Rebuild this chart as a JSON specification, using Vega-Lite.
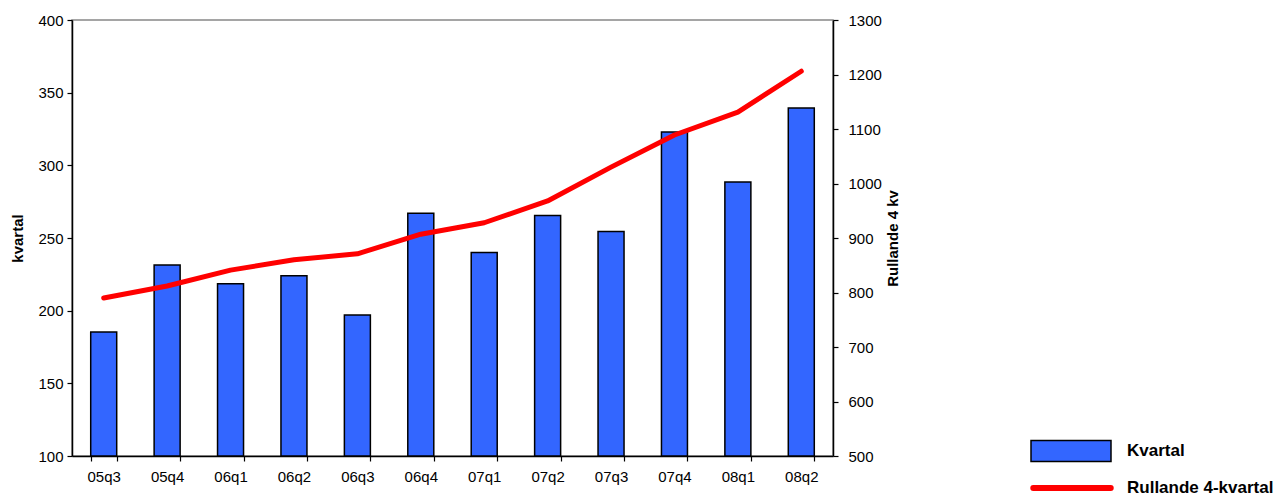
{
  "$schema": "https://vega.github.io/schema/vega-lite/v6.json",
  "width": 761,
  "height": 436,
  "autosize": "none",
  "padding": {"left": 72, "top": 20, "right": 454, "bottom": 40},
  "background": "white",
  "config": {
    "font": "Liberation Sans",
    "view": {"stroke": "#888888", "strokeWidth": 1.5},
    "axis": {"labelFont": "Liberation Sans", "labelFontSize": 15, "labelColor": "#000000", "titleFont": "Liberation Sans", "titleFontSize": 15, "titleFontWeight": "bold", "titleColor": "#000000", "domainColor": "#000000", "tickColor": "#000000", "grid": false, "domainWidth": 1.5, "tickWidth": 1.2},
    "legend": {"labelFont": "Liberation Sans", "labelFontSize": 17, "labelFontWeight": "bold", "labelColor": "#000000", "padding": 0, "labelLimit": 300}
  },
  "data": {"values": [
    {"q": "05q3", "kvartal": 185.3, "rullande": 790},
    {"q": "05q4", "kvartal": 231.5, "rullande": 812},
    {"q": "06q1", "kvartal": 218.5, "rullande": 841},
    {"q": "06q2", "kvartal": 224, "rullande": 860},
    {"q": "06q3", "kvartal": 197, "rullande": 871},
    {"q": "06q4", "kvartal": 267, "rullande": 907},
    {"q": "07q1", "kvartal": 240, "rullande": 928},
    {"q": "07q2", "kvartal": 265.5, "rullande": 968},
    {"q": "07q3", "kvartal": 254.5, "rullande": 1030},
    {"q": "07q4", "kvartal": 323, "rullande": 1089},
    {"q": "08q1", "kvartal": 288.5, "rullande": 1131},
    {"q": "08q2", "kvartal": 339.5, "rullande": 1206}
  ]},
  "encoding": {
    "x": {"field": "q", "type": "ordinal", "sort": null, "title": null,
      "scale": {"paddingInner": 0.59, "paddingOuter": 0.295},
      "axis": {"labelAngle": 0, "tickBand": "extent", "tickSize": 5, "labelPadding": 8}}
  },
  "layer": [
    {
      "mark": {"type": "bar", "stroke": "#000000", "strokeWidth": 1.5},
      "encoding": {
        "y": {"field": "kvartal", "type": "quantitative", "title": "kvartal",
          "scale": {"domain": [100, 400], "nice": false, "zero": false},
          "axis": {"values": [100, 150, 200, 250, 300, 350, 400], "tickSize": 5, "labelPadding": 4, "titlePadding": 12}},
        "y2": {"datum": 100},
        "fill": {"datum": "Kvartal", "type": "nominal",
          "scale": {"domain": ["Kvartal"], "range": ["#3366FF"]},
          "legend": {"title": null, "orient": "none", "legendX": 958, "legendY": 390,
            "symbolType": "M-1,-0.26H1V0.26H-1Z", "symbolSize": 6400, "symbolStrokeWidth": 1.5,
            "labelOffset": 15,
            "encode": {"symbols": {"enter": {"fill": {"value": "#3399FF"}}, "update": {"fill": {"value": "#3399FF"}, "stroke": {"value": "#000000"}, "strokeWidth": {"value": 1.5}, "opacity": {"value": 1}}}}}}
      }
    },
    {
      "mark": {"type": "line", "strokeWidth": 5, "strokeCap": "round", "strokeJoin": "round"},
      "encoding": {
        "y": {"field": "rullande", "type": "quantitative", "title": "Rullande 4 kv",
          "scale": {"domain": [500, 1300], "nice": false, "zero": false},
          "axis": {"orient": "right", "format": "d", "values": [500, 600, 700, 800, 900, 1000, 1100, 1200, 1300], "tickSize": 5, "labelPadding": 10, "titleAngle": -90, "titlePadding": 19}},
        "stroke": {"datum": "Rullande 4-kvartal", "type": "nominal",
          "scale": {"domain": ["Rullande 4-kvartal"], "range": ["#FF0000"]},
          "legend": {"title": null, "orient": "none", "legendX": 958, "legendY": 426,
            "symbolType": "stroke", "symbolSize": 6000, "symbolStrokeWidth": 6,
            "labelOffset": 13,
            "encode": {"symbols": {"update": {"strokeCap": {"value": "round"}, "stroke": {"value": "#FF0000"}, "strokeWidth": {"value": 6}}}}}}
      }
    }
  ],
  "resolve": {"scale": {"y": "independent"}}
}
